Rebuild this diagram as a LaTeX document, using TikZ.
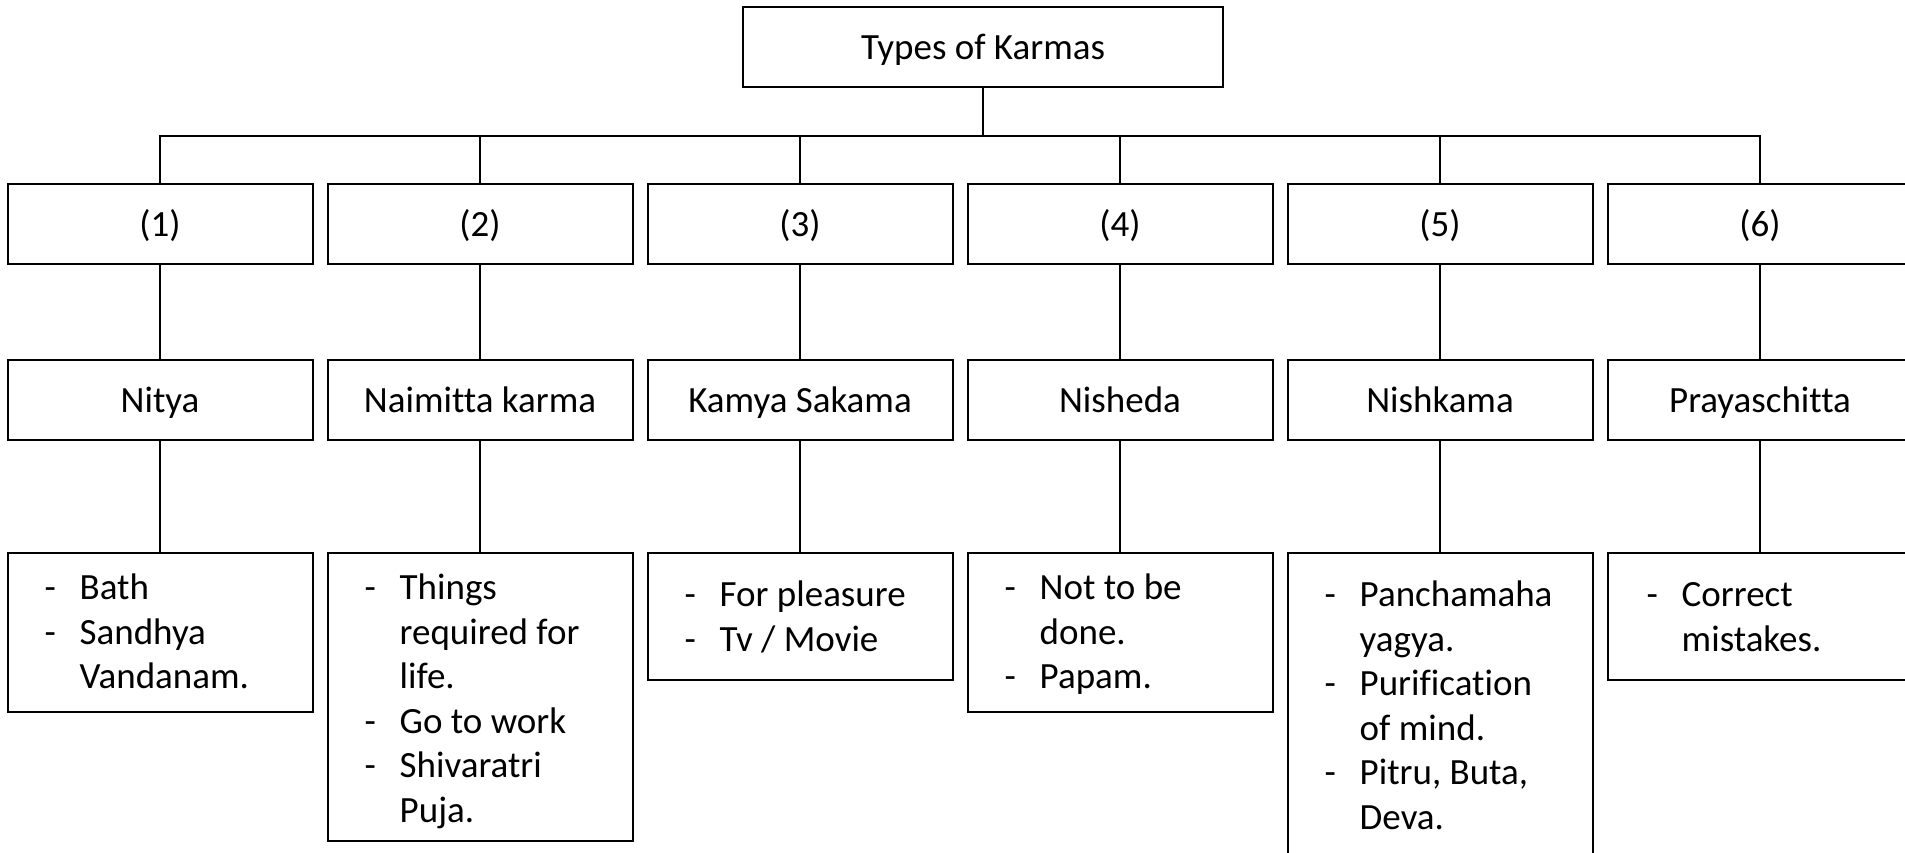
\documentclass[tikz,border=0pt]{standalone}
\usepackage{fontspec}
\setmainfont{Carlito}[Ligatures={NoCommon,NoContextual},Contextuals=NoAlternate]
\begin{document}
\begin{tikzpicture}[x=1pt,y=-1pt,
  box/.style={draw, line width=2pt, minimum width=305pt, minimum height=80pt, inner sep=0pt, text height=28pt, text depth=3pt, font=\fontsize{37}{45}\selectfont},
  leaf/.style={draw, line width=2pt, minimum width=305pt, inner sep=0pt, anchor=north},
  link/.style={line width=1.6pt},
  items/.style={inner sep=0pt, anchor=base west, font=\fontsize{37}{44.5}\selectfont}]
\clip (0,0) rectangle (1905,852);
\node[box, minimum width=480pt] (top) at (983,47.4) {Types of Karmas};
% row 1
\node[box] (h1) at (160,223.5) {(1)};
\node[box] (h2) at (480,223.5) {(2)};
\node[box] (h3) at (800,223.5) {(3)};
\node[box] (h4) at (1120,223.5) {(4)};
\node[box] (h5) at (1440,223.5) {(5)};
\node[box] (h6) at (1760,223.5) {(6)};
% row 2
\node[box] (n1) at (160,399.7) {Nitya};
\node[box] (n2) at (480,399.7) {Naimitta karma};
\node[box] (n3) at (800,399.7) {Kamya Sakama};
\node[box] (n4) at (1120,399.7) {Nisheda};
\node[box] (n5) at (1440,399.7) {Nishkama};
\node[box] (n6) at (1760,399.7) {Prayaschitta};
% row 3
\node[leaf, minimum height=159pt] (l1) at (160,551.6) {};
\node[leaf, minimum height=288pt] (l2) at (480,551.6) {};
\node[leaf, minimum height=127.5pt] (l3) at (800,551.6) {};
\node[leaf, minimum height=159pt] (l4) at (1120,551.6) {};
\node[leaf, minimum height=340pt] (l5) at (1440,551.6) {};
\node[leaf, minimum height=127.5pt] (l6) at (1760,551.6) {};
% texts
\node[items] (t1) at (44.5,599.6) {\begin{tabular}[t]{@{}p{35pt}@{}l@{}}-&Bath\\-&Sandhya\\&Vandanam.\end{tabular}};
\node[items] (t2) at (364.5,599.6) {\begin{tabular}[t]{@{}p{35pt}@{}l@{}}-&Things\\&required for\\&life.\\-&Go to work\\-&Shivaratri\\&Puja.\end{tabular}};
\node[items] (t3) at (684.5,606.6) {\begin{tabular}[t]{@{}p{35pt}@{}l@{}}-&For pleasure\\-&Tv / Movie\end{tabular}};
\node[items] (t4) at (1004.5,599.6) {\begin{tabular}[t]{@{}p{35pt}@{}l@{}}-&Not to be\\&done.\\-&Papam.\end{tabular}};
\node[items] (t5) at (1324.5,606.6) {\begin{tabular}[t]{@{}p{35pt}@{}l@{}}-&Panchamaha\\&yagya.\\-&Purification\\&of mind.\\-&Pitru, Buta,\\&Deva.\end{tabular}};
\node[items] (t6) at (1646.5,606.6) {\begin{tabular}[t]{@{}p{35pt}@{}l@{}}-&Correct\\&mistakes.\end{tabular}};
% connectors
\draw[link] (top.south) -- ++(0,47.5) coordinate (bus);
\foreach \i in {1,...,6}{
  \draw[link] (bus) -| (h\i.north);
  \draw[link] (h\i.south) -- (n\i.north);
  \draw[link] (n\i.south) -- (l\i.north);
}
\end{tikzpicture}
\end{document}
